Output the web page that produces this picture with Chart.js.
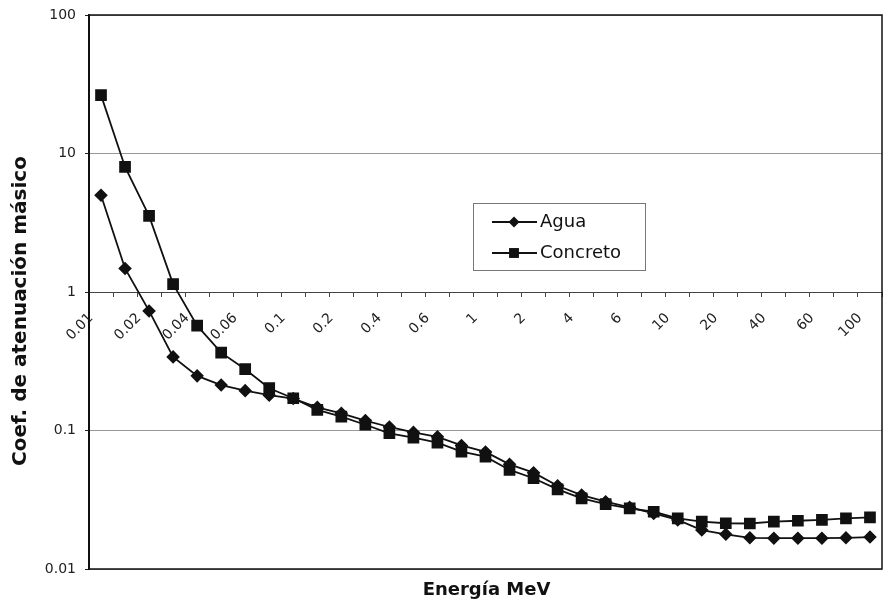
<!DOCTYPE html>
<html>
<head>
<meta charset="utf-8">
<script src="https://cdn.jsdelivr.net/npm/chart.js@4/dist/chart.umd.min.js"></script>
<style>
  html, body { margin: 0; padding: 0; background: #fff; }
</style>
</head>
<body>
<canvas id="chart" width="888" height="615"></canvas>
<script>
const energies = ["0.01", "0.015", "0.02", "0.03", "0.04", "0.05", "0.06", "0.08", "0.1", "0.15", "0.2",
  "0.3", "0.4", "0.5", "0.6", "0.8", "1", "1.5", "2", "3", "4", "5", "6", "8", "10", "15", "20", "30",
  "40", "50", "60", "80", "100"];

const agua = [5.0, 1.48, 0.73, 0.34, 0.248, 0.213, 0.194, 0.180, 0.170, 0.147, 0.133, 0.118, 0.106,
  0.097, 0.090, 0.078, 0.070, 0.057, 0.0496, 0.0399, 0.0342, 0.0306, 0.0279, 0.0252, 0.0226, 0.0191,
  0.0178, 0.0168, 0.0167, 0.0167, 0.0167, 0.0168, 0.0170];

const concreto = [26.4, 8.0, 3.54, 1.14, 0.571, 0.365, 0.277, 0.202, 0.171, 0.141, 0.126, 0.110, 0.0955,
  0.0887, 0.0817, 0.0703, 0.0647, 0.0519, 0.0452, 0.0376, 0.0324, 0.0294, 0.0274, 0.0259, 0.0232, 0.0220,
  0.0214, 0.0213, 0.0220, 0.0223, 0.0226, 0.0232, 0.0236];

const yTicks = [0.01, 0.1, 1, 10, 100];
const xTitle = "Energía MeV";
const yTitle = "Coef. de atenuación másico";

const FONT = "DejaVu Sans";

// black frame round the plot area
const framePlugin = {
  id: "frame",
  beforeDatasetsDraw(chart) {
    const a = chart.chartArea;
    const ctx = chart.ctx;
    ctx.save();
    ctx.strokeStyle = "#111";
    ctx.lineWidth = 1.5;
    ctx.strokeRect(a.left, a.top, a.right - a.left, a.bottom - a.top);
    ctx.restore();
  }
};

const titlesPlugin = {
  id: "titles",
  afterDraw(chart) {
    const a = chart.chartArea;
    const ctx = chart.ctx;
    ctx.save();
    ctx.fillStyle = "#111";
    ctx.textAlign = "center";
    ctx.textBaseline = "middle";
    ctx.font = "bold 18px '" + FONT + "'";
    ctx.fillText(xTitle, (a.left + a.right) / 2 + 1, 590);
    ctx.translate(21, 311);
    ctx.rotate(-Math.PI / 2);
    ctx.font = "bold 20px '" + FONT + "'";
    ctx.fillText(yTitle, 0, 0);
    ctx.restore();
  }
};

// legend box placed inside the plot, like the original
const legendPlugin = {
  id: "boxLegend",
  afterDraw(chart) {
    const ctx = chart.ctx;
    ctx.save();
    ctx.strokeStyle = "#777";
    ctx.lineWidth = 1;
    ctx.strokeRect(473.5, 203.5, 172, 67);
    chart.data.datasets.forEach((ds, i) => {
      const y = 222 + i * 31;
      ctx.strokeStyle = "#111";
      ctx.lineWidth = 1.8;
      ctx.beginPath();
      ctx.moveTo(492, y);
      ctx.lineTo(537, y);
      ctx.stroke();
      ctx.fillStyle = "#111";
      ctx.beginPath();
      if (ds.pointStyle === "rectRot") {
        const r = ds.pointRadius;
        ctx.moveTo(514, y - r);
        ctx.lineTo(514 + r, y);
        ctx.lineTo(514, y + r);
        ctx.lineTo(514 - r, y);
        ctx.closePath();
      } else {
        const h = ds.pointRadius * Math.SQRT1_2;
        ctx.rect(514 - h, y - h, 2 * h, 2 * h);
      }
      ctx.fill();
      ctx.font = "18px '" + FONT + "'";
      ctx.textBaseline = "middle";
      ctx.textAlign = "left";
      ctx.fillText(ds.label, 540, y);
    });
    ctx.restore();
  }
};

new Chart(document.getElementById("chart"), {
  type: "line",
  data: {
    labels: energies,
    datasets: [
      {
        label: "Agua",
        data: agua,
        borderColor: "#111",
        backgroundColor: "#111",
        borderWidth: 1.8,
        pointStyle: "rectRot",
        pointRadius: 5.5,
        tension: 0
      },
      {
        label: "Concreto",
        data: concreto,
        borderColor: "#111",
        backgroundColor: "#111",
        borderWidth: 1.8,
        pointStyle: "rect",
        pointRadius: 7,
        tension: 0
      }
    ]
  },
  options: {
    responsive: false,
    animation: false,
    devicePixelRatio: 1,
    layout: { autoPadding: false, padding: { top: 15, right: 6, bottom: 46, left: 0 } },
    plugins: {
      legend: { display: false },
      tooltip: { enabled: false }
    },
    scales: {
      y: {
        type: "logarithmic",
        min: 0.01,
        max: 100,
        afterBuildTicks: s => { s.ticks = yTicks.map(v => ({ value: v })); },
        afterFit: s => { s.width = 89; s.paddingTop = 0; s.paddingBottom = 0; },
        ticks: {
          font: { family: FONT, size: 14 },
          color: "#222",
          padding: 9,
          callback: v => String(v)
        },
        grid: { color: "#999", lineWidth: 1, tickLength: 4, tickColor: "#222" },
        border: { color: "#111", width: 2 }
      },
      x: {
        type: "category",
        offset: true,
        position: { y: 1 },
        afterFit: s => { s.height = 0; s.paddingLeft = 0; s.paddingRight = 0; },
        grid: { offset: true, drawOnChartArea: false, tickLength: 4, tickColor: "#444" },
        border: { color: "#444", width: 1 },
        ticks: {
          autoSkip: false,
          maxRotation: 45,
          minRotation: 45,
          padding: 14,
          labelOffset: -10,
          font: { family: FONT, size: 14 },
          color: "#222",
          callback: (v, i) => (i % 2 === 0 ? energies[i] : "")
        }
      }
    }
  },
  plugins: [framePlugin, titlesPlugin, legendPlugin]
});
</script>
</body>
</html>
